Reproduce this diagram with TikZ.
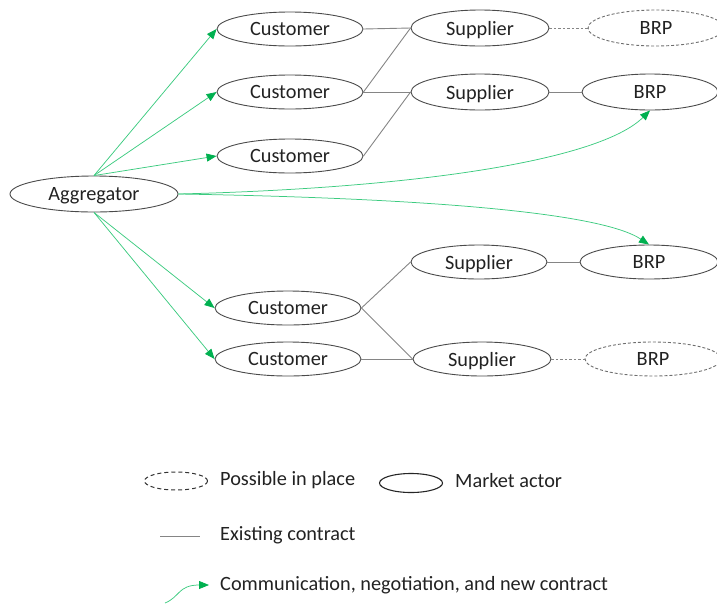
\documentclass[tikz,border=0pt]{standalone}
\usepackage{fontspec}
\setmainfont{Carlito}
\usetikzlibrary{shapes.geometric,arrows.meta}
\definecolor{actorline}{HTML}{4A4A4A}
\definecolor{contractgray}{HTML}{858585}
\definecolor{commgreen}{HTML}{3DCB80}
\definecolor{tipgreen}{HTML}{00B050}
\definecolor{txt}{HTML}{222222}
\tikzset{
  actor/.style={ellipse, draw=actorline, line width=0.9pt, inner sep=0pt, text depth=0pt,
    minimum width=146pt, minimum height=34pt, text=txt, font=\fontsize{20.3}{22}\selectfont},
  maybe/.style={actor, dashed, dash pattern=on 3pt off 2pt, draw=actorline!80},
  contract/.style={draw=contractgray, line width=0.9pt},
  contractmaybe/.style={draw=contractgray, line width=0.9pt, dash pattern=on 2.5pt off 2pt},
  comm/.style={draw=commgreen, line width=0.75pt, -{Triangle[length=10pt,width=8pt,fill=tipgreen,color=tipgreen]}},
  legendtxt/.style={anchor=west, inner sep=0pt, text=txt, font=\fontsize{20.3}{22}\selectfont}
}
\begin{document}
\begin{tikzpicture}[x=1pt,y=-1pt]
\useasboundingbox (0,0) rectangle (717,603);
\clip (0,0) rectangle (717,603);
% market actors
\node[actor, minimum width=168pt, minimum height=36pt] (agg) at (94,194) {Aggregator};
\node[actor] (c1) at (290,29) {Customer};
\node[actor] (c2) at (290,92) {Customer};
\node[actor] (c3) at (290,156) {Customer};
\node[actor] (c4) at (288,308) {Customer};
\node[actor] (c5) at (288,359) {Customer};
\node[actor, minimum width=138pt, minimum height=36pt] (s1) at (480,28) {Supplier};
\node[actor, minimum width=138pt, minimum height=36pt] (s2) at (480,92) {Supplier};
\node[actor, minimum width=136pt] (s3) at (479,262) {Supplier};
\node[actor, minimum width=138pt] (s4) at (482,359) {Supplier};
\node[maybe, minimum width=136pt, minimum height=36pt] (b1) at (656,28) {BRP};
\node[actor, minimum width=136pt, minimum height=36pt] (b2) at (650,92) {BRP};
\node[actor, minimum width=138pt] (b3) at (649,262) {BRP};
\node[maybe, minimum width=136pt] (b4) at (653,359) {BRP};
% existing contracts
\draw[contract] (c1.east) -- (s1.west);
\draw[contract] (c2.east) -- (s1.west);
\draw[contract] (c2.east) -- (s2.west);
\draw[contract] (c3.east) -- (s2.west);
\draw[contractmaybe] (s1.east) -- (b1.west);
\draw[contract] (s2.east) -- (b2.west);
\draw[contract] (c4.east) -- (s3.west);
\draw[contract] (c4.east) -- (s4.west);
\draw[contract] (c5.east) -- (s4.west);
\draw[contract] (s3.east) -- (b3.west);
\draw[contractmaybe] (s4.east) -- (b4.west);
% aggregator communication
\draw[comm] (agg.north) -- (c1.west);
\draw[comm] (agg.north) -- (c2.west);
\draw[comm] (agg.north) -- (c3.west);
\draw[comm] (agg.south) -- (c4.west);
\draw[comm] (agg.south) -- (c5.west);
\draw[comm] (agg.east) .. controls (420,188) and (600,160) .. (b2.south);
\draw[comm] (agg.east) .. controls (420,198) and (600,212) .. (b3.north);
% legend
\node[maybe, minimum width=63pt, minimum height=18pt, line width=1pt, draw=black!80, dash pattern=on 4pt off 3pt] (lg1) at (176,481) {};
\node[legendtxt] (lt1) at (220,480) {Possible in place};
\node[actor, minimum width=63pt, minimum height=19pt, line width=1.1pt, draw=black!85] (lg2) at (411,483) {};
\node[legendtxt] (lt2) at (455,481) {Market actor};
\coordinate (la) at (160,536);
\coordinate (lb) at (200,536);
\draw[contract] (la) -- (lb);
\node[legendtxt] (lt3) at (220,535) {Existing contract};
\coordinate (lc) at (165,603);
\coordinate (ld) at (209,585);
\draw[comm] (lc) .. controls (180,597) and (178,585) .. (ld);
\node[legendtxt] (lt4) at (220,585) {Communication, negotiation, and new contract};
\end{tikzpicture}
\end{document}
